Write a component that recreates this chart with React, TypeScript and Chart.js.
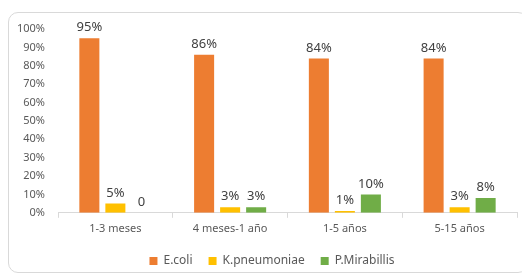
import React, { useEffect, useRef } from "react";
import { Chart, registerables } from "chart.js";

Chart.register(...registerables);

const categories = ["1-3 meses", "4 meses-1 año", "1-5 años", "5-15 años"];
const ecoli = [95, 86, 84, 84];
const kpneumoniae = [5, 3, 1, 3];
const pmirabillis = [0, 3, 10, 8];
const seriesNames = ["E.coli", "K.pneumoniae", "P.Mirabillis"];
const yTicks = [0, 10, 20, 30, 40, 50, 60, 70, 80, 90, 100];

const FONT = "'Noto Sans', sans-serif";

const labelPlugin = {
  id: "barLabels",
  afterLayout(chart: any) {
    const l = chart.legend;
    if (l) {
      l.left += 9;
      l.right += 9;
    }
  },
  afterDatasetsDraw(chart: any) {
    const ctx = chart.ctx;
    ctx.save();
    ctx.font = `13px ${FONT}`;
    ctx.fillStyle = "#404040";
    ctx.textAlign = "center";
    ctx.textBaseline = "bottom";
    chart.data.datasets.forEach((ds: any, i: number) => {
      const meta = chart.getDatasetMeta(i);
      meta.data.forEach((bar: any, j: number) => {
        const v = ds.data[j];
        const txt = v === 0 ? "0" : `${v}%`;
        ctx.fillText(txt, bar.x, bar.y - 4);
      });
    });
    ctx.restore();
  },
};

export default function App() {
  const ref = useRef<HTMLCanvasElement>(null);
  useEffect(() => {
    if (!ref.current) return;
    const chart = new Chart(ref.current, {
      type: "bar",
      data: {
        labels: categories,
        datasets: [
          { label: seriesNames[0], data: ecoli, backgroundColor: "#ED7D31" },
          { label: seriesNames[1], data: kpneumoniae, backgroundColor: "#FFC000" },
          { label: seriesNames[2], data: pmirabillis, backgroundColor: "#70AD47" },
        ],
      },
      options: {
        responsive: false,
        animation: false,
        categoryPercentage: 0.68,
        barPercentage: 0.77,
        layout: { padding: { top: 16, right: 10, bottom: 4, left: 0 } },
        plugins: {
          legend: {
            position: "bottom",
            labels: {
              boxWidth: 8,
              boxHeight: 8,
              padding: 16,
              color: "#595959",
              font: { family: FONT, size: 12 },
            },
          },
          tooltip: { enabled: false },
        },
        scales: {
          x: {
            grid: {
              display: true,
              drawOnChartArea: false,
              color: "#D9D9D9",
              tickLength: 5,
            },
            border: { color: "#D9D9D9" },
            ticks: { color: "#595959", font: { family: FONT, size: 11 }, padding: 4 },
          },
          y: {
            min: 0,
            max: 100,
            afterBuildTicks: (scale: any) => {
              scale.ticks = yTicks.map((v) => ({ value: v }));
            },
            afterFit: (scale: any) => {
              scale.width = 49;
            },
            grid: { display: false },
            border: { display: false },
            ticks: {
              color: "#595959",
              font: { family: FONT, size: 11 },
              padding: 5,
              callback: (v: any) => `${v}%`,
            },
          },
        },
      },
      plugins: [labelPlugin],
    });
    return () => chart.destroy();
  }, []);
  return (
    <div
      style={{
        marginTop: 4,
        width: 518,
        height: 259,
        border: "1px solid #D9D9D9",
        borderRadius: 10,
        overflow: "hidden",
      }}
    >
      <canvas ref={ref} width={518} height={268} style={{ display: "block" }} />
    </div>
  );
}
